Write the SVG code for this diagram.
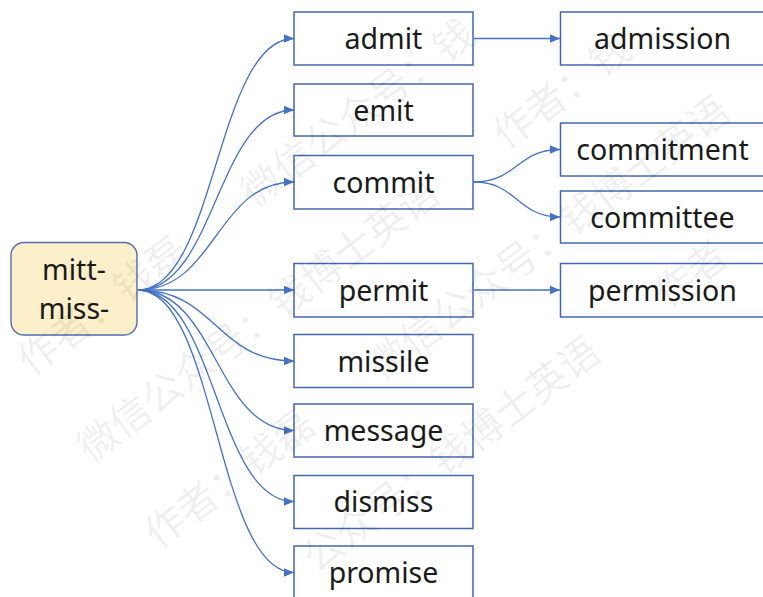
<svg xmlns="http://www.w3.org/2000/svg" width="763" height="597" viewBox="0 0 763 597">
<style>
.box{fill:#ffffff;stroke:#4467b0;stroke-width:1.5}
.root{fill:#fdefca;stroke:#4f6eb0;stroke-width:1.4}
.lbl{font-family:"Noto Sans","Open Sans",sans-serif;font-size:28.5px;fill:#1a1a1a;text-anchor:middle}
.edge{fill:none;stroke:#4472c4;stroke-width:1.3;marker-end:url(#arr)}
.wm{font-family:"Noto Sans CJK SC",sans-serif;font-size:40px;fill:#000;fill-opacity:0.07}
</style>
<defs>
<marker id="arr" markerUnits="userSpaceOnUse" markerWidth="11" markerHeight="10" refX="10.5" refY="4.5" orient="auto">
<path d="M0,0 L10.5,4.5 L0,9 z" fill="#4472c4"/>
</marker>
</defs>
<rect width="763" height="597" fill="#ffffff"/>
<g id="connectors">
<path class="edge" d="M138,290 C216,290 216,38.5 294,38.5"/>
<path class="edge" d="M138,290 C216,290 216,110 294,110"/>
<path class="edge" d="M138,290 C216,290 216,182 294,182"/>
<path class="edge" d="M138,290 L294,290"/>
<path class="edge" d="M138,290 C216,290 216,361 294,361"/>
<path class="edge" d="M138,290 C216,290 216,430.5 294,430.5"/>
<path class="edge" d="M138,290 C216,290 216,501.5 294,501.5"/>
<path class="edge" d="M138,290 C216,290 216,572.5 294,572.5"/>
<path class="edge" d="M474,38.5 L560,38.5"/>
<path class="edge" d="M474,182 C517,182 517,149.5 560,149.5"/>
<path class="edge" d="M474,182 C517,182 517,217 560,217"/>
<path class="edge" d="M474,290 L560,290"/>
</g>
<g id="root">
<rect class="root" x="11" y="242.5" width="126" height="92.5" rx="13"/>
<text class="lbl" x="74" y="280">mitt-</text>
<text class="lbl" x="74" y="319">miss-</text>
</g>
<g id="admit"><rect class="box" x="294" y="12" width="179" height="53"/><text class="lbl" x="383.5" y="49">admit</text></g>
<g id="emit"><rect class="box" x="294" y="84" width="179" height="52"/><text class="lbl" x="383.5" y="121">emit</text></g>
<g id="commit"><rect class="box" x="294" y="155.5" width="179" height="53.5"/><text class="lbl" x="383.5" y="193">commit</text></g>
<g id="permit"><rect class="box" x="294" y="263.5" width="179" height="53.5"/><text class="lbl" x="383.5" y="301">permit</text></g>
<g id="missile"><rect class="box" x="294" y="334.5" width="179" height="53"/><text class="lbl" x="383.5" y="372">missile</text></g>
<g id="message"><rect class="box" x="294" y="404" width="179" height="53"/><text class="lbl" x="383.5" y="441">message</text></g>
<g id="dismiss"><rect class="box" x="294" y="475.5" width="179" height="53"/><text class="lbl" x="383.5" y="512">dismiss</text></g>
<g id="promise"><rect class="box" x="294" y="546" width="179" height="60"/><text class="lbl" x="383.5" y="583">promise</text></g>
<g id="admission"><rect class="box" x="560.5" y="12" width="205" height="53"/><text class="lbl" x="662.5" y="49">admission</text></g>
<g id="commitment"><rect class="box" x="560.5" y="123" width="205" height="53"/><text class="lbl" x="662.5" y="160">commitment</text></g>
<g id="committee"><rect class="box" x="560.5" y="191" width="205" height="52"/><text class="lbl" x="662.5" y="228">committee</text></g>
<g id="permission"><rect class="box" x="560.5" y="263.5" width="205" height="53.5"/><text class="lbl" x="662.5" y="301">permission</text></g>
<g id="watermark">
<text class="wm" x="31" y="377" transform="rotate(-37 31 377)">作者：钱磊　　微信公众号：钱</text>
<text class="wm" x="91" y="464" transform="rotate(-37 91 464)">微信公众号：钱博士英语　　作者：钱</text>
<text class="wm" x="158" y="550" transform="rotate(-37 158 550)">作者：钱磊　　微信公众号：钱博士英语</text>
<text class="wm" x="316" y="574" transform="rotate(-37 316 574)">公众号：钱博士英语　　作者</text>
</g>
</svg>
